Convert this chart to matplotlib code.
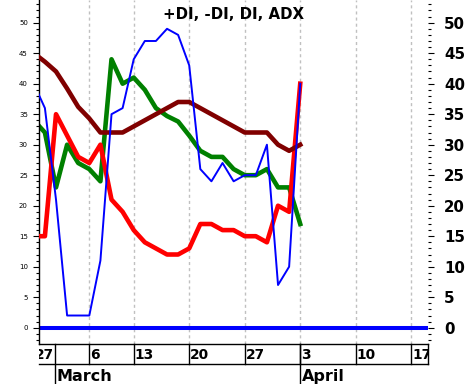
import matplotlib.pyplot as plt
from matplotlib.lines import Line2D
from matplotlib.transforms import Bbox, TransformedBbox

plt.rcParams['font.family'] = 'DejaVu Sans'

# trading days, index 0 = Feb 27
days = list(range(25))
plus_di = [34, 32, 23, 30, 27, 26, 24, 44, 40, 41, 39, 36, 34.7, 33.8, 31.5,
           29, 28, 28, 26, 25, 25, 26, 23, 23, 17]
minus_di = [15, 15, 35, 31.5, 28, 27, 30, 21, 19, 16, 14, 13, 12, 12, 13,
            17, 17, 16, 16, 15, 15, 14, 20, 19, 40]
di = [40, 36, 21, 2, 2, 2, 11, 35, 36, 44, 47, 47, 49, 48, 43,
      26, 24, 27, 24, 25, 25, 30, 7, 10, 40]
adx = [45, 43.6, 42, 39.2, 36.2, 34.3, 32, 32, 32, 33, 34, 35, 36, 37, 37,
       36, 35, 34, 33, 32, 32, 32, 30, 29, 30]

week_days = [0, 5, 9, 14, 19, 24, 29, 34]
week_labels = ['27', '6', '13', '20', '27', '3', '10', '17']
month_days = [1.9, 24]
month_labels = ['March', 'April']

W, H = 466, 384
fig = plt.figure(figsize=(W / 100, H / 100), dpi=100)
ax = fig.add_axes([39 / W, 40 / H, (428 - 39) / W, 344 / H])

xmin, xmax = 0.468, 35.51
ymin, ymax = -2.67, 53.72

# dashed weekly grid
for d in week_days:
    ax.axvline(d, color='#c0c0c0', lw=1, ls=(0, (2.2, 2.2)), zorder=0)

ax.axhline(0, color='#0000ff', lw=2.9, zorder=1)
ax.plot(days, plus_di, color='#008000', lw=3.3, zorder=2)
ax.plot(days, minus_di, color='#ff0000', lw=3.3, zorder=3)
ax.plot(days, adx, color='#800000', lw=3.3, zorder=4)
ax.plot(days, di, color='#0000ff', lw=1.4, zorder=5)

ax.text(0.5, 1 - 19.3 / 344, '+DI, -DI, DI, ADX', transform=ax.transAxes,
        ha='center', va='baseline', fontsize=10.8, fontweight='bold')

for s in ['top', 'right']:
    ax.spines[s].set_visible(False)
ax.spines['left'].set_linewidth(1)
ax.spines['bottom'].set_linewidth(1)

ax.set_xticks([])
ax.set_yticks(range(0, 51, 5))
ax.set_yticks(range(-2, 54), minor=True)
ax.tick_params(axis='y', which='major', length=4, width=0.8, labelsize=5, pad=4)
ax.tick_params(axis='y', which='minor', length=2.2, width=0.8)
ax.set_xlim(xmin, xmax)
ax.set_ylim(ymin, ymax)

ax2 = ax.twinx()
ax2.set_ylim(ymin, ymax)
ax2.set_yticks(range(0, 51, 5), labels=[str(v) for v in range(0, 51, 5)],
               fontsize=10.8, fontweight='bold')
ax2.set_yticks(range(-2, 54), minor=True)
ax2.tick_params(axis='y', which='major', length=4, width=0.8, pad=7.7)
ax2.tick_params(axis='y', which='minor', length=2.2, width=0.8)
for s in ax2.spines.values():
    s.set_visible(False)

# date rows under the chart
trans = ax.get_xaxis_transform()
r1 = -20 / 344
r2 = -40 / 344
fig.add_artist(Line2D([xmin, xmax], [r1, r1], transform=trans, color='black', lw=1))
for d in week_days + [xmax]:
    if xmin < d <= xmax:
        fig.add_artist(Line2D([d, d], [0, r1], transform=trans, color='black', lw=1))
for d in month_days:
    fig.add_artist(Line2D([d, d], [0, r2], transform=trans, color='black', lw=1))

clip = TransformedBbox(Bbox([[39 / W, 0], [428 / W, 1]]), fig.transFigure)
for d, lab in zip(week_days, week_labels):
    t = fig.text(d + 0.1, -15 / 344, lab, transform=trans, ha='left',
                 va='baseline', fontsize=9.9, fontweight='bold')
    t.set_clip_box(clip)
    t.set_clip_on(True)
for d, lab in zip(month_days, month_labels):
    t = fig.text(d + 0.15, -36.7 / 344, lab, transform=trans, ha='left',
                 va='baseline', fontsize=11.5, fontweight='bold')
    t.set_clip_box(clip)
    t.set_clip_on(True)

fig.savefig('out.png', dpi=100)
